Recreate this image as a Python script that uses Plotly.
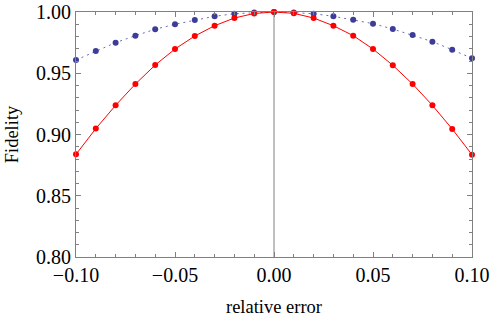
import plotly.graph_objects as go

x_vals = [-0.10, -0.09, -0.08, -0.07, -0.06, -0.05, -0.04, -0.03, -0.02, -0.01, 0.00,
          0.01, 0.02, 0.03, 0.04, 0.05, 0.06, 0.07, 0.08, 0.09, 0.10]
red_vals = [0.8838, 0.9048, 0.9238, 0.9412, 0.9567, 0.9698, 0.9804, 0.9888, 0.9951, 0.9988, 1.0000,
            0.9989, 0.9951, 0.9888, 0.9807, 0.9698, 0.9565, 0.9412, 0.9238, 0.9045, 0.8835]
blue_vals = [0.9608, 0.9682, 0.9750, 0.9807, 0.9859, 0.9900, 0.9935, 0.9965, 0.9986, 0.9995, 1.0000,
             0.9995, 0.9986, 0.9965, 0.9937, 0.9905, 0.9861, 0.9812, 0.9758, 0.9692, 0.9622]
x_ticks = [-0.10, -0.05, 0.00, 0.05, 0.10]
x_tick_text = ["\u22120.10", "\u22120.05", "0.00", "0.05", "0.10"]
y_ticks = [0.80, 0.85, 0.90, 0.95, 1.00]
y_tick_text = ["0.80", "0.85", "0.90", "0.95", "1.00"]

font_family = "Liberation Serif, Times New Roman, serif"
frame_color = "#808080"

fig = go.Figure()
fig.add_trace(go.Scatter(
    x=x_vals, y=blue_vals, mode="lines+markers",
    line=dict(color="#6a6ab8", width=1, dash="2px,4px"),
    marker=dict(color="#3d3d99", size=6),
    showlegend=False, cliponaxis=False))
fig.add_trace(go.Scatter(
    x=x_vals, y=red_vals, mode="lines+markers",
    line=dict(color="#ff0000", width=1),
    marker=dict(color="#ff0000", size=6),
    showlegend=False, cliponaxis=False))

fig.add_shape(type="line", xref="x", yref="paper", x0=0, x1=0, y0=0, y1=1,
              line=dict(color="#808080", width=1), layer="below")

axis_common = dict(
    showgrid=False, zeroline=False, showline=True, linecolor=frame_color, linewidth=1,
    mirror="allticks", ticks="inside", ticklen=5, tickcolor=frame_color, tickwidth=1,
    tickfont=dict(family=font_family, size=20, color="black"), automargin=False,
    ticklabeloverflow="allow",
)

fig.update_xaxes(range=[-0.10, 0.10], tickvals=x_ticks, ticktext=x_tick_text,
                 minor=dict(ticks="inside", ticklen=3, dtick=0.01, tickcolor=frame_color),
                 title=dict(text="relative error", font=dict(family=font_family, size=18.5, color="black"),
                            standoff=19),
                 **axis_common)
fig.update_yaxes(range=[0.80, 1.00], tickvals=y_ticks, ticktext=y_tick_text,
                 minor=dict(ticks="inside", ticklen=3, dtick=0.01, tickcolor=frame_color),
                 title=dict(text="Fidelity", font=dict(family=font_family, size=18.5, color="black"),
                            standoff=12),
                 **axis_common)

fig.update_layout(
    width=491, height=317,
    margin=dict(l=76, r=19, t=12, b=60),
    plot_bgcolor="white", paper_bgcolor="white",
    font=dict(family=font_family),
)

# remove the browser's default 8px page margin so the figure fills the window
fig.write_html("out.html", config={"displayModeBar": False},
               post_script="document.body.style.margin='0px';")
